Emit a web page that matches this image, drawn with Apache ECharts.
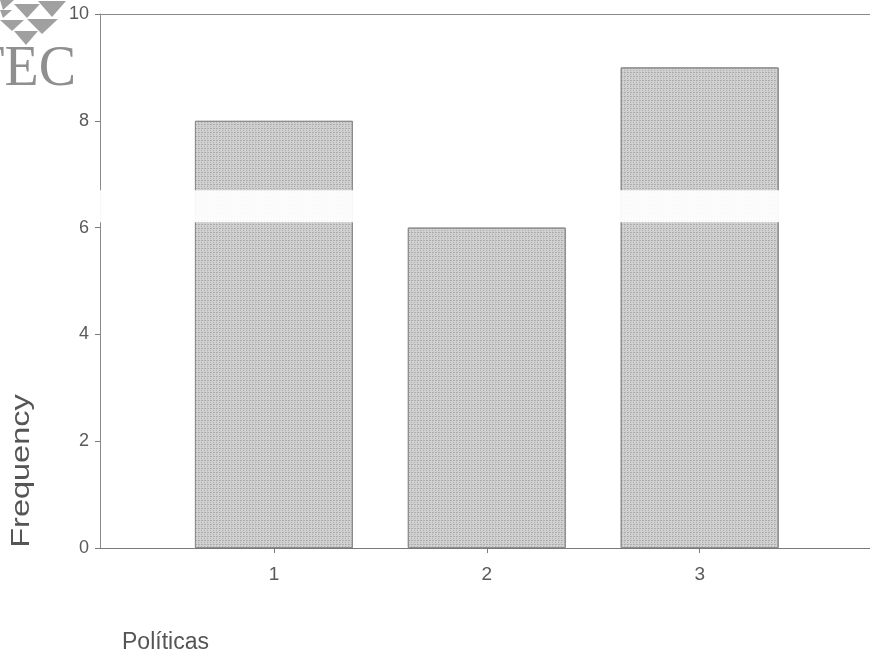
<!DOCTYPE html>
<html>
<head>
<meta charset="utf-8">
<style>
  html, body { margin: 0; padding: 0; background: #ffffff; }
  #chart { width: 870px; height: 660px; }
</style>
<script src="https://cdn.jsdelivr.net/npm/echarts@6/dist/echarts.min.js"></script>
</head>
<body>
<div id="chart"></div>
<script>
// ---- data ----
var categories = [1, 2, 3];
var frequencies = [8, 6, 9];
var yTicks = [0, 2, 4, 6, 8, 10];
var xTitle = 'Políticas';
var yTitle = 'Frequency';

var chart = echarts.init(document.getElementById('chart'), null, { renderer: 'canvas' });

var barData = categories.map(function (c, i) { return [c, frequencies[i]]; });

var option = {
  backgroundColor: '#ffffff',
  animation: false,
  grid: { left: 100, right: 0, top: 14, bottom: 112, containLabel: false },
  xAxis: [{
    type: 'value',
    min: 0.183,
    max: 3.8,
    splitLine: { show: false },
    axisLine: { show: true, lineStyle: { color: '#7a7a7a', width: 1 } },
    axisTick: { show: true, length: 5, customValues: categories, lineStyle: { color: '#7a7a7a' } },
    axisLabel: {
      customValues: categories,
      color: '#5a5a5a', fontSize: 19, fontFamily: 'Liberation Sans, Arial, sans-serif', margin: 17
    }
  }, {
    type: 'value',
    position: 'top',
    min: 0.183,
    max: 3.8,
    splitLine: { show: false },
    axisLine: { show: true, lineStyle: { color: '#8a8a8a', width: 1 } },
    axisTick: { show: false },
    axisLabel: { show: false }
  }],
  yAxis: {
    type: 'value',
    min: 0,
    max: 10,
    interval: 2,
    splitLine: { show: false },
    axisLine: { show: true, lineStyle: { color: '#8a8a8a', width: 1 } },
    axisTick: { show: true, length: 5, lineStyle: { color: '#7a7a7a' } },
    axisLabel: {
      customValues: yTicks,
      color: '#5a5a5a', fontSize: 18, fontFamily: 'Liberation Sans, Arial, sans-serif', margin: 11
    }
  },
  series: [{
    type: 'bar',
    data: barData,
    barWidth: 158,
    itemStyle: {
      color: '#d0d0d0',
      borderColor: '#8c8c8c',
      borderWidth: 1,
      decal: {
        symbol: 'rect',
        symbolSize: 1,
        color: 'rgba(110,110,110,0.35)',
        dashArrayX: [[1, 2], [2, 1]],
        dashArrayY: [1, 1],
        rotation: 0
      }
    },
    markArea: {
      silent: true,
      z: 10,
      itemStyle: { color: 'rgba(255,255,255,0.93)' },
      data: [[{ yAxis: 6.1, xAxis: 0.183 }, { yAxis: 6.7, xAxis: 3.8 }]]
    }
  }],
  graphic: [
    {
      type: 'text',
      x: 22, y: 471,
      rotation: Math.PI / 2,
      scaleX: 1.3,
      style: {
        text: yTitle,
        fill: '#555555',
        font: '25px "Liberation Sans", Arial, sans-serif',
        align: 'center',
        verticalAlign: 'middle'
      }
    },
    {
      type: 'text',
      x: 122, y: 643,
      style: {
        text: xTitle,
        fill: '#555555',
        font: '23px "Liberation Sans", Arial, sans-serif',
        verticalAlign: 'middle'
      }
    },
    {
      type: 'text',
      x: 76, y: 70,
      style: {
        text: 'TEC',
        fill: '#8f8f8f',
        font: '56px "Liberation Serif", "DejaVu Serif", serif',
        align: 'right',
        verticalAlign: 'middle'
      }
    },
    { type: 'polygon', shape: { points: [[0, 0], [14, 0], [3, 10]] }, style: { fill: '#a0a0a0' } },
    { type: 'polygon', shape: { points: [[14, 4], [40, 4], [27, 18]] }, style: { fill: '#a0a0a0' } },
    { type: 'polygon', shape: { points: [[38, 1], [66, 1], [52, 17]] }, style: { fill: '#a0a0a0' } },
    { type: 'polygon', shape: { points: [[0, 10], [12, 10], [3, 18]] }, style: { fill: '#a0a0a0' } },
    { type: 'polygon', shape: { points: [[0, 20], [24, 20], [12, 31]] }, style: { fill: '#a0a0a0' } },
    { type: 'polygon', shape: { points: [[27, 19], [58, 19], [42, 34]] }, style: { fill: '#a0a0a0' } },
    { type: 'polygon', shape: { points: [[14, 31], [38, 31], [26, 45]] }, style: { fill: '#a0a0a0' } }
  ]
};

chart.setOption(option);
</script>
</body>
</html>
